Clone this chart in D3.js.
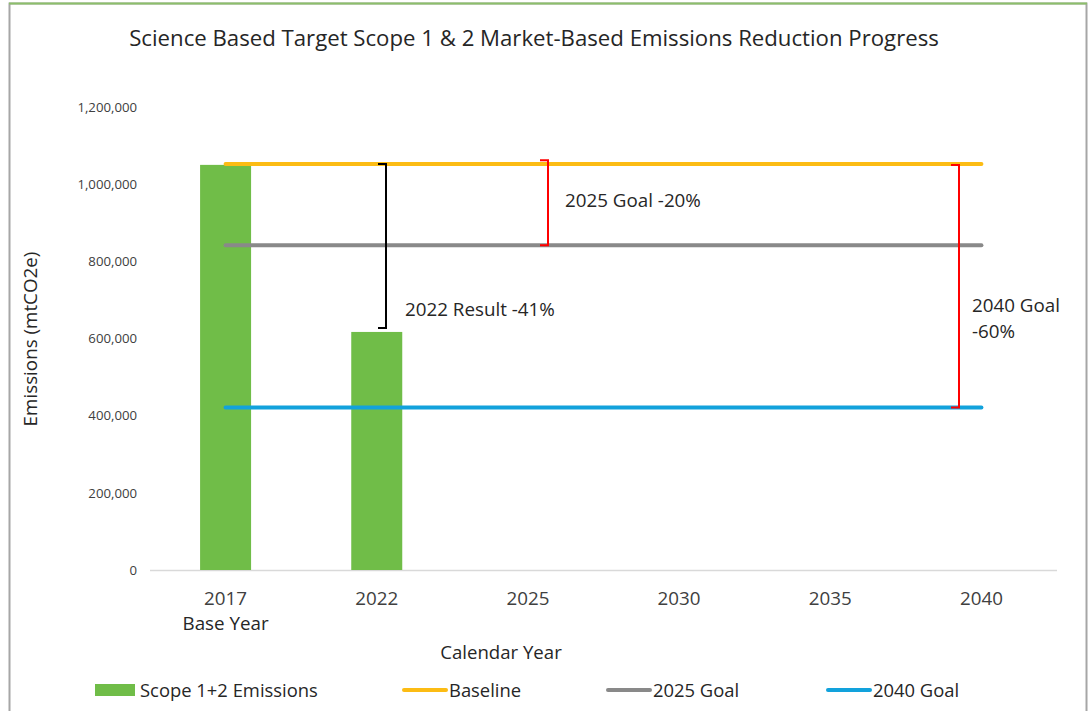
<!DOCTYPE html>
<meta charset="utf-8">
<style>
  body { margin: 0; background: #fff; }
  text { font-family: "Open Sans", sans-serif; fill: #262626; }
  .tick text { fill: #404040; }
</style>
<svg width="1091" height="711"></svg>
<script src="https://d3js.org/d3.v7.min.js"></script>
<script>
var width = 1091, height = 711;

// data
var years = ["2017", "2022", "2025", "2030", "2035", "2040"];
var emissions = [1050000, 617000];          // Scope 1+2, 2017 and 2022
var baseline = 1052000;
var goal2025 = 842000;
var goal2040 = 421000;
var yTicks = [0, 200000, 400000, 600000, 800000, 1000000, 1200000];

var svg = d3.select("svg");

// outer frame
svg.append("rect")
    .attr("x", 9.5).attr("y", 3.5)
    .attr("width", 1077).attr("height", 720)
    .attr("fill", "#fff")
    .attr("stroke", "#a6a6a6").attr("stroke-width", 2);
svg.append("line")
    .attr("x1", 9).attr("x2", 1087).attr("y1", 3.5).attr("y2", 3.5)
    .attr("stroke", "#8cbf6a").attr("stroke-width", 2);

var x = d3.scaleBand().domain(years).range([150, 1057]);
var y = d3.scaleLinear().domain([0, 1200000]).range([570, 107]);
var cx = function(d) { return x(d) + x.bandwidth() / 2; };

// title
svg.append("text")
    .attr("x", 534).attr("y", 46)
    .attr("text-anchor", "middle")
    .attr("font-size", 22.2)
    .text("Science Based Target Scope 1 & 2 Market-Based Emissions Reduction Progress");

// y axis (labels only)
var yAxis = svg.append("g")
    .attr("transform", "translate(137,0)")
    .call(d3.axisLeft(y).tickValues(yTicks).tickSize(0).tickPadding(0).tickFormat(d3.format(",")));
yAxis.select(".domain").remove();
yAxis.selectAll("text").attr("font-size", 13.2);

// x axis
svg.append("line")
    .attr("x1", 150).attr("x2", 1057)
    .attr("y1", 570.5).attr("y2", 570.5)
    .attr("stroke", "#d9d9d9").attr("stroke-width", 1.5);
var xAxis = svg.append("g")
    .attr("transform", "translate(0,570)")
    .call(d3.axisBottom(x).tickSize(0).tickPadding(21.5));
xAxis.select(".domain").remove();
xAxis.selectAll("text").attr("font-size", 18.8);
svg.append("text")
    .attr("x", cx("2017")).attr("y", 630)
    .attr("text-anchor", "middle").attr("font-size", 18.8)
    .text("Base Year");

// axis titles
svg.append("text")
    .attr("x", 501).attr("y", 659)
    .attr("text-anchor", "middle").attr("font-size", 18.6)
    .text("Calendar Year");
svg.append("text")
    .attr("transform", "translate(37,339) rotate(-90)")
    .attr("text-anchor", "middle").attr("font-size", 18.8)
    .text("Emissions (mtCO2e)");

// bars
svg.selectAll(".bar")
    .data(emissions)
    .enter().append("rect")
    .attr("class", "bar")
    .attr("x", function(d, i) { return cx(years[i]) - 25.5; })
    .attr("width", 51)
    .attr("y", function(d) { return y(d); })
    .attr("height", function(d) { return y(0) - y(d); })
    .attr("fill", "#70bd48");

// horizontal reference lines
var refLines = [
  { value: baseline, color: "#fcbc14" },
  { value: goal2025, color: "#898989" },
  { value: goal2040, color: "#12a2dc" }
];
svg.selectAll(".ref")
    .data(refLines)
    .enter().append("line")
    .attr("class", "ref")
    .attr("x1", cx("2017")).attr("x2", cx("2040"))
    .attr("y1", function(d) { return y(d.value); })
    .attr("y2", function(d) { return y(d.value); })
    .attr("stroke", function(d) { return d.color; })
    .attr("stroke-width", 4)
    .attr("stroke-linecap", "round");

// brackets
function bracket(xv, top, bottom, color) {
  var p = d3.path();
  p.moveTo(xv - 8, y(top));
  p.lineTo(xv, y(top));
  p.lineTo(xv, y(bottom));
  p.lineTo(xv - 8, y(bottom));
  svg.append("path")
      .attr("d", p.toString())
      .attr("fill", "none")
      .attr("stroke", color)
      .attr("stroke-width", 2);
}
bracket(386, baseline, emissions[1] + 10000, "#000");
bracket(548, baseline + 10000, goal2025, "#ff0000");
bracket(959, baseline - 2000, goal2040, "#ff0000");

var notes = [
  { x: 565, y: 207, lines: ["2025 Goal -20%"] },
  { x: 405, y: 316, lines: ["2022 Result -41%"] },
  { x: 972, y: 312, lines: ["2040 Goal", "-60%"] }
];
notes.forEach(function(n) {
  var t = svg.append("text")
      .attr("x", n.x).attr("y", n.y)
      .attr("font-size", 18.8).attr("fill", "#000");
  n.lines.forEach(function(l, i) {
    t.append("tspan").attr("x", n.x).attr("dy", i ? 26 : 0).text(l);
  });
});

// legend
var legendItems = [
  { label: "Scope 1+2 Emissions", color: "#70bd48", type: "rect", x: 95 },
  { label: "Baseline", color: "#fcbc14", type: "line", x: 403 },
  { label: "2025 Goal", color: "#898989", type: "line", x: 607 },
  { label: "2040 Goal", color: "#12a2dc", type: "line", x: 827 }
];
var lg = svg.selectAll(".legend")
    .data(legendItems)
    .enter().append("g")
    .attr("class", "legend")
    .attr("transform", function(d) { return "translate(" + d.x + ",690)"; });
lg.filter(function(d) { return d.type === "rect"; })
    .append("rect")
    .attr("x", 0).attr("y", -6).attr("width", 40).attr("height", 12)
    .attr("fill", function(d) { return d.color; });
lg.filter(function(d) { return d.type === "line"; })
    .append("line")
    .attr("x1", 1).attr("x2", 43).attr("y1", 0).attr("y2", 0)
    .attr("stroke", function(d) { return d.color; })
    .attr("stroke-width", 4).attr("stroke-linecap", "round");
lg.append("text")
    .attr("x", function(d) { return d.type === "rect" ? 45 : 46; })
    .attr("y", 7)
    .attr("font-size", 18.4)
    .text(function(d) { return d.label; });
</script>
